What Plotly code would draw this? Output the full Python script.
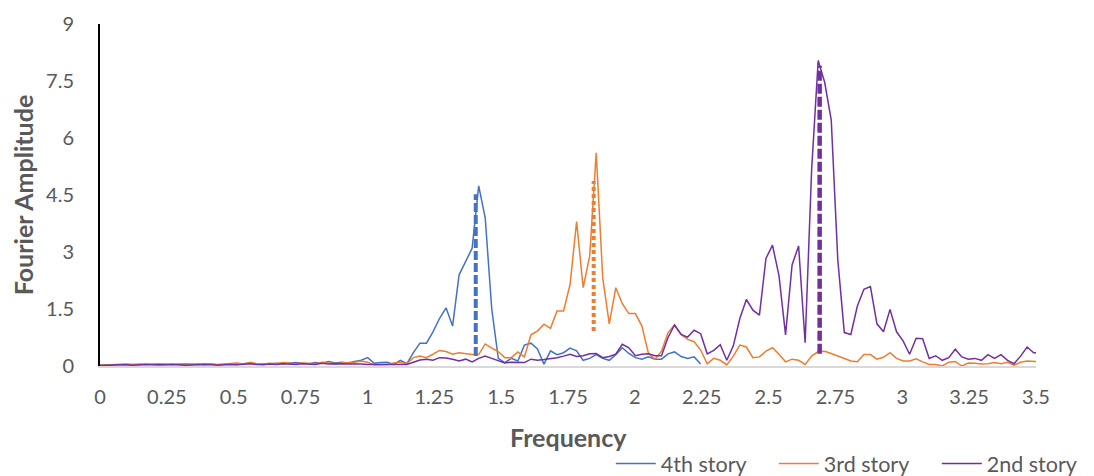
import plotly.graph_objects as go

# Frequency grid (FFT bin spacing, Hz)
freq_step = 100 / 4096
n_points = 145

story4 = [0.02, 0.02, 0.03, 0.03, 0.04, 0.04, 0.03, 0.05, 0.04, 0.03,
          0.04, 0.05, 0.04, 0.03, 0.04, 0.05, 0.04, 0.05, 0.03, 0.04,
          0.05, 0.04, 0.06, 0.08, 0.05, 0.06, 0.05, 0.07, 0.06, 0.08,
          0.09, 0.07, 0.06, 0.09, 0.07, 0.12, 0.08, 0.10, 0.08, 0.12,
          0.15, 0.22, 0.07, 0.09, 0.10, 0.04, 0.15, 0.06, 0.35, 0.60,
          0.60, 0.90, 1.25, 1.53, 1.05, 2.40, 2.75, 3.10, 4.74, 3.90,
          1.50, 0.20, 0.09, 0.20, 0.13, 0.55, 0.60, 0.45, 0.05, 0.40,
          0.30, 0.35, 0.47, 0.40, 0.15, 0.20, 0.30, 0.20, 0.15, 0.30,
          0.48, 0.33, 0.22, 0.18, 0.24, 0.18, 0.18, 0.32, 0.37, 0.25,
          0.20, 0.24, 0.05]

story3 = [0.02, 0.03, 0.03, 0.04, 0.05, 0.04, 0.05, 0.04, 0.05, 0.06,
          0.05, 0.04, 0.05, 0.06, 0.05, 0.04, 0.06, 0.05, 0.04, 0.05,
          0.06, 0.08, 0.05, 0.10, 0.06, 0.05, 0.07, 0.06, 0.09, 0.07,
          0.06, 0.08, 0.07, 0.06, 0.10, 0.07, 0.06, 0.08, 0.09, 0.10,
          0.13, 0.10, 0.03, 0.04, 0.04, 0.08, 0.10, 0.06, 0.22, 0.26,
          0.22, 0.31, 0.41, 0.38, 0.31, 0.35, 0.32, 0.30, 0.30, 0.58,
          0.47, 0.38, 0.22, 0.22, 0.37, 0.24, 0.82, 0.92, 1.10, 0.99,
          1.45, 1.45, 2.15, 3.80, 2.06, 2.89, 5.61, 2.32, 1.11, 2.06,
          1.64, 1.38, 1.38, 1.05, 0.33, 0.18, 0.39, 0.88, 1.08, 0.83,
          0.70, 0.64, 0.42, 0.06, 0.20, 0.15, 0.03, 0.26, 0.55, 0.50,
          0.22, 0.24, 0.39, 0.48, 0.31, 0.11, 0.18, 0.15, 0.04, 0.26,
          0.38, 0.39, 0.33, 0.26, 0.20, 0.13, 0.11, 0.30, 0.30, 0.18,
          0.23, 0.35, 0.20, 0.13, 0.13, 0.19, 0.11, 0.04, 0.04, 0.00,
          0.10, 0.12, 0.00, 0.08, 0.07, 0.05, 0.06, 0.09, 0.06, 0.10,
          0.02, 0.10, 0.13, 0.12, 0.11]

story2 = [0.01, 0.02, 0.02, 0.03, 0.03, 0.02, 0.03, 0.03, 0.04, 0.03,
          0.03, 0.04, 0.03, 0.02, 0.03, 0.03, 0.04, 0.03, 0.02, 0.03,
          0.04, 0.03, 0.05, 0.06, 0.04, 0.03, 0.05, 0.04, 0.06, 0.05,
          0.04, 0.06, 0.05, 0.04, 0.07, 0.05, 0.06, 0.06, 0.06, 0.06,
          0.05, 0.04, 0.04, 0.04, 0.03, 0.03, 0.03, 0.04, 0.10, 0.16,
          0.18, 0.15, 0.22, 0.21, 0.18, 0.13, 0.18, 0.11, 0.20, 0.26,
          0.20, 0.13, 0.08, 0.10, 0.09, 0.09, 0.18, 0.15, 0.17, 0.19,
          0.22, 0.26, 0.31, 0.25, 0.27, 0.32, 0.33, 0.22, 0.25, 0.31,
          0.57, 0.48, 0.27, 0.31, 0.32, 0.27, 0.27, 0.75, 1.08, 0.83,
          0.76, 0.94, 0.85, 0.32, 0.41, 0.56, 0.15, 0.53, 1.25, 1.75,
          1.47, 1.34, 2.83, 3.18, 2.37, 0.82, 2.66, 3.16, 0.61, 5.18,
          8.04, 7.46, 6.47, 2.80, 0.88, 0.83, 1.58, 2.02, 2.09, 1.11,
          0.90, 1.49, 0.90, 0.66, 0.31, 0.73, 0.72, 0.20, 0.27, 0.15,
          0.22, 0.44, 0.24, 0.18, 0.20, 0.15, 0.30, 0.20, 0.30, 0.15,
          0.06, 0.26, 0.50, 0.35, 0.35]

# Vertical peak markers (frequency, top, bottom)
peak_freqs = [1.405, 1.846, 2.691]
peak_tops = [4.52, 4.87, 7.90]
peak_bottoms = [0.26, 0.92, 0.32]

series_names = ["4th story", "3rd story", "2nd story"]
colors = ["#4472C4", "#ED7D31", "#7030A0"]

x_ticks = [0, 0.25, 0.5, 0.75, 1, 1.25, 1.5, 1.75, 2, 2.25, 2.5, 2.75, 3, 3.25, 3.5]
x_tick_text = ["0", "0.25", "0.5", "0.75", "1", "1.25", "1.5", "1.75", "2", "2.25",
               "2.5", "2.75", "3", "3.25", "3.5"]
y_ticks = [0, 1.5, 3, 4.5, 6, 7.5, 9]
y_tick_text = ["0", "1.5", "3", "4.5", "6", "7.5", "9"]

freqs = [round(i * freq_step, 5) for i in range(n_points)]

fig = go.Figure()
for name, vals, col in zip(series_names, [story4, story3, story2], colors):
    fig.add_trace(go.Scatter(
        x=freqs[:len(vals)], y=vals, mode="lines", name=name,
        line=dict(color=col, width=1.5),
    ))

dash_styles = ["9px,3px", "4px,3px", "10px,3px"]
dash_widths = [4, 4, 4.5]
for f, top, bot, col, dsh, w in zip(peak_freqs, peak_tops, peak_bottoms, colors, dash_styles, dash_widths):
    fig.add_trace(go.Scatter(
        x=[f, f], y=[bot, top], mode="lines", showlegend=False,
        line=dict(color=col, width=w, dash=dsh), hoverinfo="skip",
    ))

font_family = "Lato, 'Open Sans', sans-serif"
fig.update_layout(
    width=1094, height=476,
    margin=dict(l=92, r=66, t=16, b=118, autoexpand=False),
    paper_bgcolor="white", plot_bgcolor="white",
    font=dict(family=font_family, color="#595959", size=19),
    showlegend=True,
    legend=dict(
        orientation="h", xref="container", yref="container",
        x=0.551, xanchor="left", y=-0.013, yanchor="bottom",
        font=dict(size=21.5, color="#595959"),
        itemwidth=40, entrywidth=108, tracegroupgap=0,
        bgcolor="rgba(0,0,0,0)",
    ),
    xaxis=dict(
        range=[0, 3.5], tickvals=x_ticks, ticktext=x_tick_text,
        showgrid=False, zeroline=False, automargin=False,
        showline=True, linecolor="#D9D9D9", linewidth=1.5,
        ticks="", ticklabelstandoff=12,
        tickfont=dict(size=20, color="#595959"),
    ),
    yaxis=dict(
        range=[0, 9], tickvals=y_ticks, ticktext=y_tick_text,
        showgrid=False, zeroline=False, automargin=False,
        showline=True, linecolor="#000000", linewidth=2,
        ticks="", ticklabelstandoff=20,
        tickfont=dict(size=20, color="#595959"),
        title=dict(text="<b>Fourier Amplitude</b>", font=dict(size=25, color="#595959"), standoff=9),
    ),
    annotations=[dict(
        text="<b>Frequency</b>", xref="paper", yref="paper",
        x=0.5, y=-0.208, xanchor="center", yanchor="middle",
        showarrow=False, font=dict(size=25, color="#595959"),
    )],
)

fig.write_html("out.html")
